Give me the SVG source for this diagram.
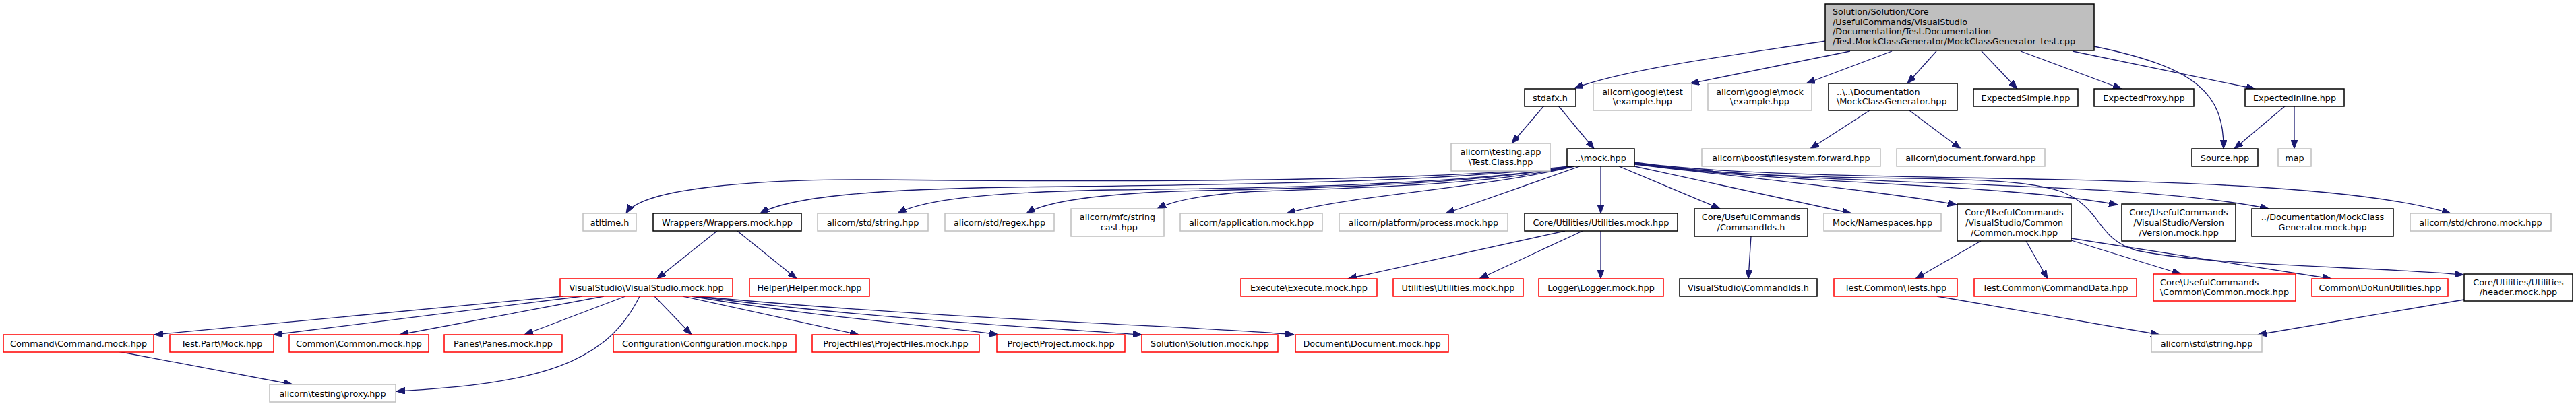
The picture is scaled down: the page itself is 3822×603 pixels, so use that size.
<svg xmlns="http://www.w3.org/2000/svg" width="3822" height="603" viewBox="0 0 3822 603">
<style>
rect{fill:#fff;stroke-width:1.5}
.b rect{stroke:#000}
.g rect{stroke:#bfbfbf}
.r rect{stroke:#ff0000}
.root rect{fill:#bfbfbf;stroke:#000}
text{font-family:"DejaVu Sans",sans-serif;font-size:12.8px;fill:#000;text-anchor:middle}
text.l{text-anchor:start}
#edges path{fill:none;stroke:#191970;stroke-width:1.3;marker-end:url(#arr)}
</style>
<defs>
<marker id="arr" markerUnits="userSpaceOnUse" markerWidth="14" markerHeight="10" refX="13" refY="5" orient="auto" viewBox="0 0 14 10">
<path d="M0,0 L13,5 L0,10 z" fill="#191970" stroke="#191970" stroke-width="1"/>
</marker>
</defs>
<rect x="0" y="0" width="3822" height="603" style="fill:#fff;stroke:none"/>
<g id="edges">
<path d="M2708,61 C2600,78 2420,100 2336,131"/>
<path d="M2745,76 L2508,124"/>
<path d="M2807,76 L2680,124"/>
<path d="M2873,76 L2830,124"/>
<path d="M2940,76 L2993,132"/>
<path d="M2998,76 L3148,132"/>
<path d="M3075,76 L3346,132"/>
<path d="M3107,69 C3260,100 3300,140 3299,221"/>
<path d="M2291,157 L2243,213"/>
<path d="M2312,157 L2365,221"/>
<path d="M2774,164 L2686,221"/>
<path d="M2833,164 L2909,221"/>
<path d="M3391,157 L3315,221"/>
<path d="M3404,157 L3404,221"/>
<path d="M2330,247 C2100,272 1600,270 1300,267 C1100,266 950,282 929,317"/>
<path d="M2331,247 C2100,275 1700,275 1500,278 C1300,281 1170,292 1128,317"/>
<path d="M2332,247 C2150,278 1800,280 1650,282 C1480,285 1370,295 1332,317"/>
<path d="M2333,247 C2150,280 1850,280 1720,285 C1620,290 1550,300 1523,317"/>
<path d="M2334,247 C2200,278 1950,280 1850,285 C1780,290 1740,298 1717,310"/>
<path d="M2336,247 C2200,280 2000,290 1909,317"/>
<path d="M2344,247 L2145,317"/>
<path d="M2375,247 L2375,317"/>
<path d="M2402,247 L2552,310"/>
<path d="M2425,247 L2747,317"/>
<path d="M2425,244 C2600,265 2800,285 2903,304"/>
<path d="M2425,243 C2650,275 2950,270 3142,304"/>
<path d="M2425,242 C2700,280 3150,265 3366,310"/>
<path d="M2425,241 C2700,280 3400,245 3636,317"/>
<path d="M2425,242 C2700,280 2960,250 3060,285 C3120,310 3110,355 3170,372 C3280,395 3500,395 3655,408"/>
<path d="M1064,343 L975,414"/>
<path d="M1094,343 L1182,414"/>
<path d="M835,440 L229,497"/>
<path d="M864,440 L406,497"/>
<path d="M896,440 L593,497"/>
<path d="M928,440 L778,497"/>
<path d="M949,440 C900,540 800,570 588,581"/>
<path d="M971,440 L1026,497"/>
<path d="M1013,440 L1274,497"/>
<path d="M1026,440 C1200,470 1400,485 1481,497"/>
<path d="M1032,440 C1300,475 1600,490 1694,497"/>
<path d="M1035,440 C1400,475 1800,485 1920,497"/>
<path d="M175,522 L434,571"/>
<path d="M2322,343 L2000,414"/>
<path d="M2348,343 L2195,414"/>
<path d="M2375,343 L2375,414"/>
<path d="M2598,351 L2594,414"/>
<path d="M2939,358 L2842,414"/>
<path d="M3006,358 L3038,414"/>
<path d="M3073,357 L3236,407"/>
<path d="M3073,354 L3459,414"/>
<path d="M2874,440 L3204,497"/>
<path d="M3656,445 L3350,497"/>
</g>
<g id="n0" class="root"><rect x="2708" y="6" width="399" height="69"/><text class="l" x="2719" y="22">Solution/Solution/Core</text><text class="l" x="2719" y="36.5">/UsefulCommands/VisualStudio</text><text class="l" x="2719" y="51">/Documentation/Test.Documentation</text><text class="l" x="2719" y="65.5">/Test.MockClassGenerator/MockClassGenerator_test.cpp</text></g>
<g id="n1" class="b"><rect x="2262" y="132" width="76" height="26"/><text x="2300" y="149.5">stdafx.h</text></g>
<g id="n2" class="g"><rect x="2364" y="124" width="146" height="40"/><text x="2437" y="140.5">alicorn\google\test</text><text x="2437" y="155">\example.hpp</text></g>
<g id="n3" class="g"><rect x="2534" y="124" width="154" height="40"/><text x="2611" y="140.5">alicorn\google\mock</text><text x="2611" y="155">\example.hpp</text></g>
<g id="n4" class="b"><rect x="2713" y="124" width="191" height="40"/><text class="l" x="2725" y="140.5">..\..\Documentation</text><text class="l" x="2725" y="155">\MockClassGenerator.hpp</text></g>
<g id="n5" class="b"><rect x="2928" y="132" width="155" height="26"/><text x="3005.5" y="149.5">ExpectedSimple.hpp</text></g>
<g id="n6" class="b"><rect x="3107" y="132" width="148" height="26"/><text x="3181" y="149.5">ExpectedProxy.hpp</text></g>
<g id="n7" class="b"><rect x="3331" y="132" width="147" height="26"/><text x="3404.5" y="149.5">ExpectedInline.hpp</text></g>
<g id="n8" class="g"><rect x="2153" y="213" width="147" height="41"/><text x="2226.5" y="230">alicorn\testing.app</text><text x="2226.5" y="244.5">\Test.Class.hpp</text></g>
<g id="n9" class="b"><rect x="2325" y="221" width="100" height="26"/><text x="2375" y="238.5">..\mock.hpp</text></g>
<g id="n10" class="g"><rect x="2525" y="221" width="265" height="26"/><text x="2657.5" y="238.5">alicorn\boost\filesystem.forward.hpp</text></g>
<g id="n11" class="g"><rect x="2814" y="221" width="220" height="26"/><text x="2924" y="238.5">alicorn\document.forward.hpp</text></g>
<g id="n12" class="b"><rect x="3252" y="221" width="98" height="26"/><text x="3301" y="238.5">Source.hpp</text></g>
<g id="n13" class="g"><rect x="3380" y="221" width="49" height="26"/><text x="3404.5" y="238.5">map</text></g>
<g id="n14" class="g"><rect x="865" y="317" width="79" height="26"/><text x="904.5" y="334.5">atltime.h</text></g>
<g id="n15" class="b"><rect x="969" y="317" width="220" height="26"/><text x="1079" y="334.5">Wrappers/Wrappers.mock.hpp</text></g>
<g id="n16" class="g"><rect x="1213" y="317" width="164" height="26"/><text x="1295" y="334.5">alicorn/std/string.hpp</text></g>
<g id="n17" class="g"><rect x="1402" y="317" width="162" height="26"/><text x="1483" y="334.5">alicorn/std/regex.hpp</text></g>
<g id="n18" class="g"><rect x="1589" y="310" width="138" height="41"/><text x="1658" y="327">alicorn/mfc/string</text><text x="1658" y="341.5">-cast.hpp</text></g>
<g id="n19" class="g"><rect x="1751" y="317" width="211" height="26"/><text x="1856.5" y="334.5">alicorn/application.mock.hpp</text></g>
<g id="n20" class="g"><rect x="1987" y="317" width="250" height="26"/><text x="2112" y="334.5">alicorn/platform/process.mock.hpp</text></g>
<g id="n21" class="b"><rect x="2262" y="317" width="227" height="26"/><text x="2375.5" y="334.5">Core/Utilities/Utilities.mock.hpp</text></g>
<g id="n22" class="b"><rect x="2514" y="310" width="168" height="41"/><text x="2598" y="327">Core/UsefulCommands</text><text x="2598" y="341.5">/CommandIds.h</text></g>
<g id="n23" class="g"><rect x="2706" y="317" width="174" height="26"/><text x="2793" y="334.5">Mock/Namespaces.hpp</text></g>
<g id="n24" class="b"><rect x="2904" y="303" width="169" height="55"/><text x="2988.5" y="319.5">Core/UsefulCommands</text><text x="2988.5" y="334.5">/VisualStudio/Common</text><text x="2988.5" y="349.5">/Common.mock.hpp</text></g>
<g id="n25" class="b"><rect x="3148" y="303" width="169" height="55"/><text x="3232.5" y="319.5">Core/UsefulCommands</text><text x="3232.5" y="334.5">/VisualStudio/Version</text><text x="3232.5" y="349.5">/Version.mock.hpp</text></g>
<g id="n26" class="b"><rect x="3341" y="310" width="210" height="41"/><text x="3446" y="327">../Documentation/MockClass</text><text x="3446" y="341.5">Generator.mock.hpp</text></g>
<g id="n27" class="g"><rect x="3576" y="317" width="209" height="26"/><text x="3680.5" y="334.5">alicorn/std/chrono.mock.hpp</text></g>
<g id="n28" class="r"><rect x="831" y="414" width="256" height="26"/><text x="959" y="431.5">VisualStudio\VisualStudio.mock.hpp</text></g>
<g id="n29" class="r"><rect x="1112" y="414" width="178" height="26"/><text x="1201" y="431.5">Helper\Helper.mock.hpp</text></g>
<g id="n30" class="r"><rect x="1841" y="414" width="202" height="26"/><text x="1942" y="431.5">Execute\Execute.mock.hpp</text></g>
<g id="n31" class="r"><rect x="2067" y="414" width="193" height="26"/><text x="2163.5" y="431.5">Utilities\Utilities.mock.hpp</text></g>
<g id="n32" class="r"><rect x="2283" y="414" width="185" height="26"/><text x="2375.5" y="431.5">Logger\Logger.mock.hpp</text></g>
<g id="n33" class="b"><rect x="2492" y="414" width="204" height="26"/><text x="2594" y="431.5">VisualStudio\CommandIds.h</text></g>
<g id="n34" class="r"><rect x="2721" y="414" width="183" height="26"/><text x="2812.5" y="431.5">Test.Common\Tests.hpp</text></g>
<g id="n35" class="r"><rect x="2929" y="414" width="241" height="26"/><text x="3049.5" y="431.5">Test.Common\CommandData.hpp</text></g>
<g id="n36" class="r"><rect x="3195" y="407" width="211" height="40"/><text class="l" x="3205" y="423.5">Core\UsefulCommands</text><text class="l" x="3205" y="438">\Common\Common.mock.hpp</text></g>
<g id="n37" class="r"><rect x="3430" y="414" width="202" height="26"/><text x="3531" y="431.5">Common\DoRunUtilities.hpp</text></g>
<g id="n38" class="b"><rect x="3656" y="407" width="161" height="40"/><text x="3736.5" y="423.5">Core/Utilities/Utilities</text><text x="3736.5" y="438">/header.mock.hpp</text></g>
<g id="n39" class="r"><rect x="5" y="497" width="223" height="26"/><text x="116.5" y="514.5">Command\Command.mock.hpp</text></g>
<g id="n40" class="r"><rect x="252" y="497" width="154" height="26"/><text x="329" y="514.5">Test.Part\Mock.hpp</text></g>
<g id="n41" class="r"><rect x="429" y="497" width="207" height="26"/><text x="532.5" y="514.5">Common\Common.mock.hpp</text></g>
<g id="n42" class="r"><rect x="659" y="497" width="175" height="26"/><text x="746.5" y="514.5">Panes\Panes.mock.hpp</text></g>
<g id="n43" class="r"><rect x="910" y="497" width="271" height="26"/><text x="1045.5" y="514.5">Configuration\Configuration.mock.hpp</text></g>
<g id="n44" class="r"><rect x="1205" y="497" width="248" height="26"/><text x="1329" y="514.5">ProjectFiles\ProjectFiles.mock.hpp</text></g>
<g id="n45" class="r"><rect x="1479" y="497" width="190" height="26"/><text x="1574" y="514.5">Project\Project.mock.hpp</text></g>
<g id="n46" class="r"><rect x="1694" y="497" width="202" height="26"/><text x="1795" y="514.5">Solution\Solution.mock.hpp</text></g>
<g id="n47" class="r"><rect x="1922" y="497" width="227" height="26"/><text x="2035.5" y="514.5">Document\Document.mock.hpp</text></g>
<g id="n48" class="g"><rect x="3192" y="497" width="164" height="26"/><text x="3274" y="514.5">alicorn\std\string.hpp</text></g>
<g id="n49" class="g"><rect x="400" y="571" width="187" height="26"/><text x="493.5" y="588.5">alicorn\testing\proxy.hpp</text></g>
</svg>
